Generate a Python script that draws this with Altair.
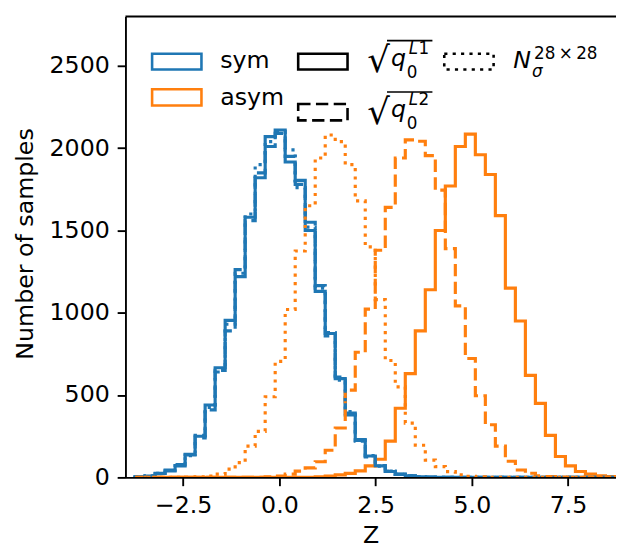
import altair as alt
import pandas as pd

# ---------------- data ----------------
bin_edges = [-3.75, -3.49, -3.23, -2.97, -2.71, -2.45, -2.19, -1.93, -1.67, -1.41,
             -1.15, -0.89, -0.63, -0.37, -0.11, 0.15, 0.41, 0.67, 0.93, 1.19,
             1.45, 1.71, 1.97, 2.23, 2.49, 2.75, 3.01, 3.27, 3.53, 3.79,
             4.05, 4.31, 4.57, 4.83, 5.09, 5.35, 5.61, 5.87, 6.13, 6.39,
             6.65, 6.91, 7.17, 7.43, 7.69, 7.95, 8.21, 8.47, 8.73, 8.99, 9.25]

sym_L1 = [3, 8, 24, 40, 70, 136, 250, 440, 666, 954,
          1220, 1580, 1820, 2070, 2110, 1916, 1804, 1500, 1130, 874,
          600, 390, 224, 130, 70, 36, 20, 10, 4, 2,
          0, 0, 0, 0, 0, 0, 0, 0, 0, 0,
          0, 0, 0, 0, 0, 0, 0, 0, 0, 0]
sym_L2 = [2, 9, 22, 44, 78, 140, 240, 410, 640, 890,
          1262, 1560, 1850, 2010, 2090, 1950, 1780, 1550, 1165, 860,
          610, 380, 230, 125, 72, 38, 18, 9, 4, 2,
          0, 0, 0, 0, 0, 0, 0, 0, 0, 0,
          0, 0, 0, 0, 0, 0, 0, 0, 0, 0]
sym_N = [2, 8, 25, 42, 72, 132, 255, 425, 650, 930,
         1240, 1600, 1900, 2040, 2100, 1990, 1760, 1520, 1150, 880,
         590, 400, 220, 132, 68, 38, 18, 9, 4, 1,
         0, 0, 0, 0, 0, 0, 0, 0, 0, 0,
         0, 0, 0, 0, 0, 0, 0, 0, 0, 0]
asym_L1 = [0, 0, 0, 0, 0, 0, 0, 0, 0, 0,
           0, 0, 0, 0, 0, 0, 0, 0, 3, 8,
           15, 24, 40, 70, 110, 220, 420, 630, 890, 1140,
           1500, 1770, 2010, 2085, 1960, 1840, 1590, 1150, 950, 620,
           450, 255, 127, 70, 36, 20, 10, 5, 3, 1]
asym_L2 = [0, 0, 0, 0, 0, 0, 0, 0, 0, 0,
           0, 0, 0, 3, 8, 20, 38, 58, 95, 165,
           300, 530, 760, 1022, 1380, 1640, 1940, 2050, 2042, 1955,
           1745, 1390, 1042, 722, 496, 320, 190, 98, 45, 25,
           10, 5, 2, 0, 0, 0, 0, 0, 0, 0]
asym_N = [0, 0, 0, 0, 0, 2, 4, 8, 20, 50,
          90, 190, 280, 490, 705, 1020, 1375, 1650, 1940, 2080,
          2040, 1900, 1680, 1400, 1080, 710, 550, 330, 195, 105,
          65, 35, 16, 7, 3, 0, 0, 0, 0, 0,
          0, 0, 0, 0, 0, 0, 0, 0, 0, 0]

x_ticks = [-2.5, 0.0, 2.5, 5.0, 7.5]
y_ticks = [0, 500, 1000, 1500, 2000, 2500]

# ---------------- style / layout ----------------
BLUE = "#1f77b4"
ORANGE = "#ff7f0e"
FONT = "DejaVu Sans"
W, H = 497, 467
LW = 3.2
DASHED = [12.5, 5.5]
DOTTED = [3.2, 5.3]

x_scale = alt.Scale(domain=[-4.0, 8.744], nice=False, zero=False)
y_scale = alt.Scale(domain=[0, 2800], nice=False, zero=False)

common_axis = dict(labelFont=FONT, titleFont=FONT, labelFontSize=24, titleFontSize=24,
                   labelColor="black", titleColor="black", tickColor="black",
                   domainColor="black", tickSize=8.4, tickWidth=1.9, domainWidth=1.9,
                   labelPadding=8, grid=False, titleFontWeight="normal", zindex=1,
                   labelFlush=False, labelOverlap=False)
x_axis = alt.Axis(values=x_ticks, format=".1f", title="Z",
                  titleX=W / 2, titleY=66, titleBaseline="alphabetic",
                  titleAlign="center", **common_axis)
y_axis = alt.Axis(values=y_ticks, format="d", title="Number of samples",
                  titleX=-94, titleY=230, titleAngle=270, titleAlign="center",
                  titleBaseline="alphabetic", **common_axis)


def step_frame(counts):
    xs = [bin_edges[0]] + bin_edges[:-1] + [bin_edges[-1]]
    ys = [0] + list(counts) + [0]
    return pd.DataFrame({"z": xs, "n": ys, "i": list(range(len(xs)))})


def hist_layer(counts, color, dash=None):
    kw = dict(interpolate="step-after", clip=True, strokeWidth=LW, color=color,
              strokeCap="butt", strokeJoin="miter")
    if dash:
        kw["strokeDash"] = dash
    return alt.Chart(step_frame(counts)).mark_line(**kw).encode(
        x=alt.X("z:Q", scale=x_scale, axis=x_axis),
        y=alt.Y("n:Q", scale=y_scale, axis=y_axis),
        order=alt.Order("i:Q"),
    )


one = pd.DataFrame({"k": [0]})

layers = [
    hist_layer(sym_L1, BLUE),
    hist_layer(asym_L1, ORANGE),
    hist_layer(sym_L2, BLUE, DASHED),
    hist_layer(asym_L2, ORANGE, DASHED),
    hist_layer(sym_N, BLUE, DOTTED),
    hist_layer(asym_N, ORANGE, DOTTED),
]

# top spine
layers.append(alt.Chart(one).mark_rule(color="black", strokeWidth=1.9).encode(
    x=alt.value(0), x2=alt.value(W), y=alt.value(0)))

# legend handles (pixel layout)
handles = [
    (27, 77, 37.7, 53.7, BLUE, None),
    (27, 77, 73.7, 90.3, ORANGE, None),
    (175, 225, 37.7, 53.7, "black", None),
    (175, 225, 88.7, 105.3, "black", DASHED),
    (323, 373, 37.7, 53.7, "black", DOTTED),
]
for x1, x2, y1, y2, col, dash in handles:
    kw = dict(filled=False, stroke=col, color=col, strokeWidth=2.6)
    if dash:
        kw["strokeDash"] = dash
    layers.append(alt.Chart(one).mark_rect(**kw).encode(
        x=alt.value(x1), x2=alt.value(x2), y=alt.value(y1), y2=alt.value(y2)))

# legend labels: (x, baseline y, text, size, style)
labels = [
    (96, 52, "sym", 24, "normal"),
    (96, 90, "asym", 24, "normal"),
    # sqrt(q0^L1)
    (245, 56.5, "\u221a", 36, "normal"),
    (269, 50, "q", 24, "italic"),
    (285, 62, "0", 17, "normal"),
    (287, 38, "L", 17, "italic"),
    (297, 38, "1", 17, "normal"),
    # sqrt(q0^L2)
    (245, 108.5, "\u221a", 36, "normal"),
    (269, 102, "q", 24, "italic"),
    (285, 114, "0", 17, "normal"),
    (287, 90, "L", 17, "italic"),
    (297, 90, "2", 17, "normal"),
    # N_sigma^{28x28}
    (393, 52, "N", 24, "italic"),
    (412, 61, "\u03c3", 17, "italic"),
    (414, 43, "28\u2009\u00d7\u200928", 17, "normal"),
]
for lx, ly, txt, size, style in labels:
    layers.append(alt.Chart(one).mark_text(
        align="left", baseline="alphabetic", font=FONT, fontSize=size,
        fontStyle=style, color="black").encode(
        x=alt.value(lx), y=alt.value(ly), text=alt.value(txt)))

# overlines of the square roots
for ox1, ox2, oy in [(265, 311, 24.5), (265, 311, 76.5)]:
    layers.append(alt.Chart(one).mark_rule(color="black", strokeWidth=1.6).encode(
        x=alt.value(ox1), x2=alt.value(ox2), y=alt.value(oy)))

chart = alt.layer(*layers).properties(
    width=W, height=H,
    padding={"left": 119, "top": 5, "right": 0, "bottom": 70},
    autosize=alt.AutoSizeParams(type="none"),
    background="white",
).configure_view(stroke=None)

chart.save("out.html", embed_options={"renderer": "svg", "actions": False})
